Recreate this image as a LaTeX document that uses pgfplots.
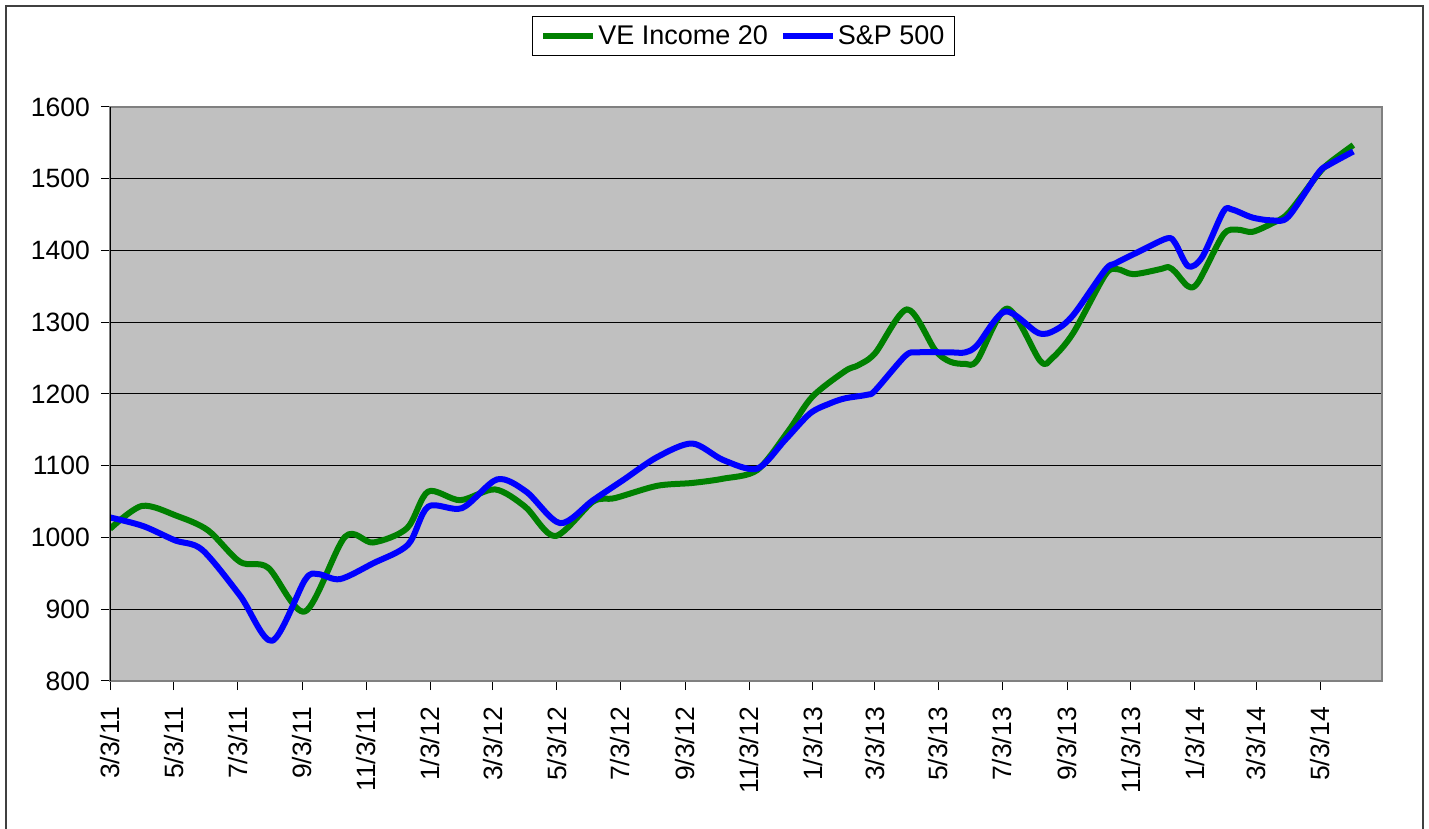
\documentclass[border=0pt]{standalone}
\usepackage{fontspec}
\setmainfont{Liberation Sans}
\usepackage{pgfplots}
\pgfplotsset{compat=1.18}
\definecolor{xlgreen}{RGB}{0,128,0}
\definecolor{xlblue}{RGB}{0,0,255}
\definecolor{plotgray}{RGB}{192,192,192}
\definecolor{framegray}{RGB}{128,128,128}
\newcommand\chartfont{\fontsize{26.5bp}{31bp}\selectfont}
\newcommand\legfont{\fontsize{27bp}{31bp}\selectfont}
\begin{document}
\begin{tikzpicture}
\path[use as bounding box] (0bp,0bp) rectangle (1429bp,829bp);
\draw[line width=2bp, black!75] (6bp,-20bp) -- (6bp,823bp) -- (1423bp,823bp) -- (1423bp,-20bp);
\begin{axis}[
  at={(110bp,148bp)}, anchor=south west,
  scale only axis, width=1272bp, height=574bp,
  xmin=0, xmax=1216, ymin=800, ymax=1600,
  axis background/.style={fill=plotgray},
  axis line style={framegray, line width=1.5bp},
  ytick={800,900,...,1600},
  xtick={0,61,122,184,245,306,366,427,488,550,611,672,731,792,853,915,976,1037,1096,1157},
  xticklabels={3/3/11,5/3/11,7/3/11,9/3/11,11/3/11,1/3/12,3/3/12,5/3/12,7/3/12,9/3/12,11/3/12,1/3/13,3/3/13,5/3/13,7/3/13,9/3/13,11/3/13,1/3/14,3/3/14,5/3/14},
  ymajorgrids, grid style={black, line width=1bp},
  tick align=outside, major tick length=9bp,
  tick style={black, line width=1bp},
  xtick pos=bottom, ytick pos=left,
  /pgf/number format/assume math mode=true,
  /pgf/number format/1000 sep={},
  ticklabel style={font=\chartfont},
  xticklabel style={rotate=90, anchor=east, inner sep=2bp, xshift=-15bp},
  yticklabel style={inner sep=2bp, xshift=-9bp},
  legend columns=2,
  legend style={at={(0.498,1.1237)}, anchor=center, draw=black, line width=1bp,
    font=\legfont, inner xsep=8bp, inner ysep=7bp,
    /tikz/every even column/.append style={column sep=10bp}},
  legend image code/.code={\draw[line width=6bp] (0bp,0bp) -- (50bp,0bp);},
]
\addplot[xlgreen, line width=6bp, smooth, tension=0.5, line join=round] coordinates {
(0,1012) (30.6,1044) (64.1,1030) (93.7,1010) (124.3,966) (151.1,958) (186.5,897)
(224.7,1001) (251.5,993) (284.0,1013) (304.1,1064) (334.7,1052) (368.1,1067)
(396.8,1043) (425.5,1002) (461.8,1050) (482.9,1055) (523.0,1072) (556.5,1076)
(586.2,1082) (618.7,1094) (648.3,1148) (671.3,1196) (702.8,1232) (715.2,1240)
(731.5,1257) (762.1,1318) (788.9,1261) (803.2,1245) (817.6,1242) (829.0,1247)
(857.7,1319) (889.3,1246) (900.7,1250) (920.8,1285) (951.4,1366) (962.9,1374)
(978.2,1367) (1004.0,1374) (1011.7,1377) (1018.4,1370) (1030.8,1350) (1040.3,1356)
(1064.3,1422) (1077.7,1429) (1092.0,1426) (1111.1,1438) (1126.4,1452)
(1154.2,1505) (1164.7,1521) (1188.6,1547)
};
\addlegendentry{VE Income 20}
\addplot[xlblue, line width=6bp, smooth, tension=0.5, line join=round] coordinates {
(0,1028) (31.6,1016) (62.2,996) (88.0,983) (124.3,919) (154.9,856) (186.5,941)
(198.9,949) (219.9,942) (251.5,964) (284.9,990) (304.1,1043) (336.6,1041)
(370.1,1081) (397.8,1064) (430.3,1020) (461.8,1052) (490.5,1080) (523.0,1112)
(556.5,1131) (586.2,1108) (618.7,1096) (645.4,1136) (669.3,1173) (688.5,1187)
(702.8,1194) (723.9,1199) (731.5,1205) (760.2,1253) (771.7,1258) (803.2,1258)
(817.6,1258) (829.0,1268) (855.8,1315) (887.4,1285) (903.6,1289) (920.8,1310)
(951.4,1373) (961.0,1382) (983.0,1398) (1010.7,1417) (1018.4,1410) (1030.8,1378)
(1044.2,1391) (1064.3,1454) (1072.9,1457) (1092.0,1446) (1111.1,1442)
(1126.4,1447) (1155.1,1508) (1164.7,1519) (1188.6,1538)
};
\addlegendentry{S\&P 500}
\draw[black, line width=1.5bp] (rel axis cs:0,0) -- (rel axis cs:0,1);
\end{axis}
\end{tikzpicture}
\end{document}
